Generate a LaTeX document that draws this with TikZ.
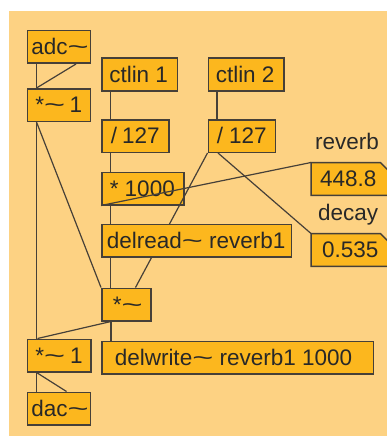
\documentclass[tikz,border=0pt]{standalone}
\usepackage{fontspec}
\setmainfont{Liberation Sans}
\definecolor{patchbg}{RGB}{253,210,131}
\definecolor{objfill}{RGB}{252,183,30}
\definecolor{objline}{RGB}{70,64,56}
\definecolor{ink}{RGB}{40,40,40}
% wide tilde used in the object names
\newcommand{\wave}{\scalebox{1.6}[1]{\textasciitilde}}
\pgfdeclarelayer{bg}
\pgfdeclarelayer{under}
\pgfdeclarelayer{wires}
\pgfsetlayers{bg,under,wires,main}
\tikzset{
  patchfont/.style={font=\fontsize{22.5}{27}\selectfont, text=ink},
  obj/.style 2 args={draw=objline, fill=objfill, line width=1.5pt,
    anchor=north west, minimum height=32.5pt, inner ysep=0pt,
    inner xsep=#1, text height=15.8pt, text depth=0pt, patchfont,
    execute at begin node={\hbox to #2\bgroup},
    execute at end node={\hfil\egroup}},
  num/.style 2 args={anchor=north west, minimum height=32.5pt, inner ysep=0pt,
    inner xsep=#1, text height=15.8pt, text depth=0pt, patchfont,
    execute at begin node={\hbox to #2\bgroup},
    execute at end node={\hfil\egroup}},
  numshape/.style={draw=objline, fill=objfill, line width=1.5pt},
  wire/.style={draw=objline, line width=1.2pt},
  tag/.style={anchor=base west, inner sep=0pt, patchfont}
}
\begin{document}
\begin{tikzpicture}[x=1pt,y=-1pt]
\useasboundingbox (0,0) rectangle (386,436);
\begin{pgfonlayer}{bg}
  \fill[patchbg] (9,11) rectangle (392,435.5);
\end{pgfonlayer}

% objects
\node[obj={4pt}{55pt}] (adc) at (26.5,30) {adc\wave};
\node[obj={8pt}{47pt}] (mul1) at (26.5,88) {*\wave{} 1};
\node[obj={7.5pt}{60.5pt}] (ctlin1) at (101,57.5) {ctlin 1};
\node[obj={9pt}{49pt}] (div1) at (101,119) {/ 127};
\begin{pgfonlayer}{under}
  \node[obj={8pt}{66pt}] (times1000) at (101,171.5) {* 1000};
\end{pgfonlayer}
\node[obj={7.5pt}{60.5pt}] (ctlin2) at (207.5,57.5) {ctlin 2};
\node[obj={8.5pt}{50pt}] (div2) at (207.5,119) {/ 127};
\node[obj={5pt}{179.5pt}] (delread) at (101,223.5) {delread\wave{} reverb1};
\node[obj={11pt}{27pt}] (mulmid) at (101,287.5) {*\wave};
\node[obj={8pt}{47.5pt}] (mul2) at (26.5,338.5) {*\wave{} 1};
\node[obj={13pt}{245.5pt}] (delwrite) at (101,340.5) {delwrite\wave{} reverb1 1000};
\node[obj={4pt}{55pt}] (dac) at (26.5,391.5) {dac\wave};

% number boxes with a clipped corner
\node[num={9pt}{60pt}] (num1) at (311,162.5) {448.8};
\node[num={11pt}{56pt}] (num2) at (311,233.5) {0.535};
\begin{pgfonlayer}{under}
  \foreach \n in {num1,num2}
    \path[numshape] (\n.north west) -- ([xshift=-9pt]\n.north east)
      -- ([yshift=-9pt]\n.north east) -- (\n.south east)
      -- (\n.south west) -- cycle;
\end{pgfonlayer}
\node[tag] (lrev) at (315,149) {reverb};
\node[tag] (ldec) at (318,220) {decay};

% patch cords
\begin{pgfonlayer}{wires}
  \draw[wire] ([xshift=10pt]adc.south west) -- ([xshift=10pt]mul1.north west);
  \draw[wire] ([xshift=-15pt]adc.south east) -- ([xshift=10pt]mul1.north west);
  \draw[wire] ([xshift=9.5pt]ctlin1.south west) -- ([xshift=9.5pt]div1.north west);
  \draw[wire] ([xshift=9.5pt]div1.south west) -- ([xshift=9.5pt]times1000.north west);
  \draw[wire] ([xshift=9.5pt]ctlin2.south west) -- ([xshift=9.5pt]div2.north west);
  \draw[wire] (div2.south west) -- ([xshift=-16pt]mulmid.north east);
  \draw[wire] ([xshift=10.5pt]div2.south west) -- (num2.north west);
  \draw[wire] (times1000.south west) -- (num1.north west);
  \draw[wire] ([xshift=9.5pt]times1000.south west) -- ([xshift=9.5pt]delread.north west);
  \draw[wire] ([xshift=9.5pt]delread.south west) -- ([xshift=9.5pt]mulmid.north west);
  \draw[wire] ([xshift=10pt]mul1.south west) -- (mulmid.north west);
  \draw[wire] ([xshift=10pt]mul1.south west) -- ([xshift=10pt]mul2.north west);
  \draw[wire] ([xshift=10pt]mulmid.south west) -- ([xshift=11pt]mul2.north west);
  \draw[wire] ([xshift=10pt]mulmid.south west) -- ([xshift=10pt]delwrite.north west);
  \draw[wire] ([xshift=10pt]mul2.south west) -- ([xshift=10pt]dac.north west);
  \draw[wire] ([xshift=10pt]mul2.south west) -- ([xshift=40pt]dac.north west);
\end{pgfonlayer}
\end{tikzpicture}
\end{document}
